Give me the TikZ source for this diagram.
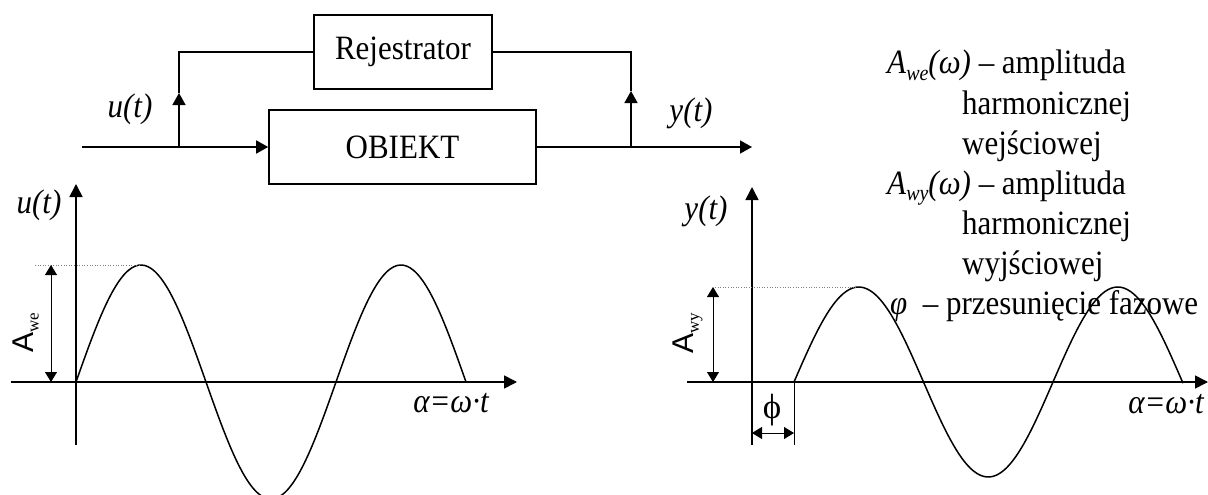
\documentclass[tikz,border=0pt]{standalone}
\usepackage{graphicx}
\usepackage{fontspec}
\setmainfont{Liberation Serif}
\setsansfont{Liberation Sans}
\usetikzlibrary{arrows.meta}
\newcommand{\vs}[1]{\scalebox{1}[1.1]{#1}}
\begin{document}
\begin{tikzpicture}[x=1pt,y=-1pt,
  line/.style={line width=1.6pt},
  arr/.style={line width=1.6pt,-{Triangle[length=12pt,width=13pt]}},
  axis/.style={line width=1.6pt,-{Triangle[length=13pt,width=13pt]}},
  dimv/.style={line width=0.9pt,{Triangle[length=10pt,width=12pt]}-{Triangle[length=10pt,width=12pt]}},
  guide/.style={gray,dotted,line width=0.6pt},
  thinline/.style={line width=0.9pt},
  wave/.style={line width=1.5pt},
  block/.style={draw,line width=1.6pt,font=\fontsize{31}{36}\selectfont,inner sep=0pt},
  lab/.style={font=\fontsize{31}{36}\selectfont\itshape,inner sep=0pt},
  leg/.style={font=\fontsize{31}{36}\selectfont,inner sep=0pt,anchor=base west},
  greek/.style={font=\fontsize{31}{36}\selectfont\itshape,inner sep=0pt},
  amp/.style={rotate=90,inner sep=0pt}
]
\useasboundingbox (0,0) rectangle (1208,495);
\clip (0,0) rectangle (1208,495);

% ---------- block diagram ----------
\node[block,minimum width=178pt,minimum height=74pt] (reg) at (403,52) {\vs{Rejestrator}};
\node[block,minimum width=267pt,minimum height=74pt] (obj) at (402.5,147) {\vs{OBIEKT}};
\coordinate (in) at (82,147);
\coordinate (b1) at (179,147);
\coordinate (m1) at (179,93);
\coordinate (t1) at (179,52);
\coordinate (b2) at (631,147);
\coordinate (m2) at (631,91);
\coordinate (t2) at (631,52);
\coordinate (out) at (752,147);
\draw[line] (in) -- (b1);
\draw[arr] (b1) -- (obj.west);
\draw[arr] (b1) -- (m1);
\draw[line] (m1) -- (t1) -- (reg.west);
\draw[line] (obj.east) -- (b2);
\draw[arr] (b2) -- (out);
\draw[arr] (b2) -- (m2);
\draw[line] (m2) -- (t2) -- (reg.east);
\node[lab] (ulab) at (130,109) {\vs{u(t)}};
\node[lab] (ylab) at (691,113) {\vs{y(t)}};

% ---------- left graph ----------
\coordinate (v1b) at (76,445);
\coordinate (v1t) at (76,184);
\coordinate (h1l) at (11,382);
\coordinate (h1r) at (517,382);
\draw[axis] (v1b) -- (v1t);
\draw[axis] (h1l) -- (h1r);
\draw[wave] plot[domain=0:390,samples=120,smooth] ({76+\x},{382-117*sin(\x/130*180)});
\coordinate (g1a) at (35,265);
\coordinate (g1b) at (141,265);
\draw[guide] (g1a) -- (g1b);
\coordinate (d1t) at (51,265);
\coordinate (d1b) at (51,382);
\draw[dimv] (d1t) -- (d1b);
\node[amp] (awe) at (26,333) {\fontsize{30}{30}\selectfont\sffamily A\raisebox{-5pt}{\fontsize{17}{17}\selectfont\rmfamily we}};
\node[lab] (ugr) at (39,205) {\vs{u(t)}};
\node[greek] (al1) at (451,403) {\vs{α=ω·t}};

% ---------- right graph ----------
\coordinate (v2b) at (752,445);
\coordinate (v2t) at (752,187);
\coordinate (h2l) at (687,382);
\coordinate (h2r) at (1208,382);
\draw[axis] (v2b) -- (v2t);
\draw[axis] (h2l) -- (h2r);
\draw[wave] plot[domain=0:389,samples=120,smooth] ({794+\x},{382-95*sin(\x/129.5*180)});
\coordinate (g2a) at (715,287);
\coordinate (g2b) at (858,287);
\draw[guide] (g2a) -- (g2b);
\coordinate (d2t) at (713,287);
\coordinate (d2b) at (713,382);
\draw[dimv] (d2t) -- (d2b);
\node[amp] (awy) at (688,333) {\fontsize{30}{30}\selectfont\sffamily A\raisebox{-5pt}{\fontsize{17}{17}\selectfont\rmfamily wy}};
\coordinate (p0) at (794,382);
\coordinate (p1) at (794,445);
\draw[thinline] (p0) -- (p1);
\coordinate (pa) at (752,433);
\coordinate (pb) at (794,433);
\draw[dimv] (pa) -- (pb);
\node[inner sep=0pt,font=\fontsize{35}{35}\selectfont] (phi) at (772,410) {ϕ};
\node[lab] (ygr) at (706,211) {\vs{y(t)}};
\node[greek] (al2) at (1166,404) {\vs{α=ω·t}};

% ---------- legend ----------
\node[leg] (l1) at (887,74) {\vs{\textit{A}\raisebox{-6pt}{\fontsize{20}{20}\selectfont\itshape we}\textit{(ω)} – amplituda}};
\node[leg] (l2) at (962,114) {\vs{harmonicznej}};
\node[leg] (l3) at (962,154) {\vs{wejściowej}};
\node[leg] (l4) at (887,194) {\vs{\textit{A}\raisebox{-6pt}{\fontsize{20}{20}\selectfont\itshape wy}\textit{(ω)} – amplituda}};
\node[leg] (l5) at (962,234) {\vs{harmonicznej}};
\node[leg] (l6) at (962,274) {\vs{wyjściowej}};
\node[leg] (l7) at (890,314) {\vs{\textit{φ}\ \ – przesunięcie fazowe}};
\end{tikzpicture}
\end{document}
